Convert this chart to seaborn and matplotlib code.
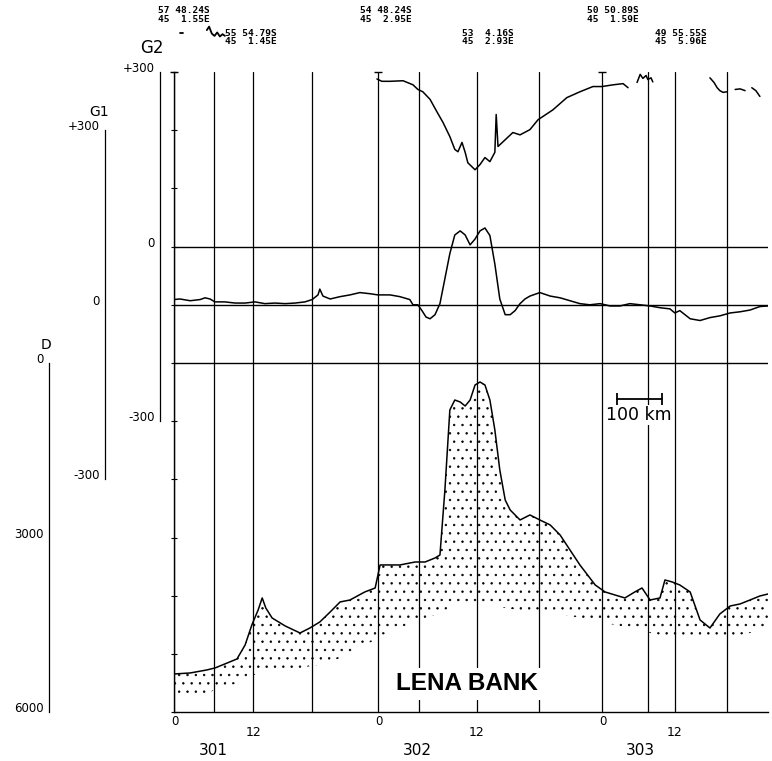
import numpy as np
import pandas as pd
import seaborn as sns
import matplotlib.pyplot as plt
from matplotlib.ticker import FixedLocator, NullFormatter

sns.set_style("white")
plt.rcParams['font.family'] = ['DejaVu Sans']
plt.rcParams['text.color'] = 'black'
plt.rcParams['hatch.linewidth'] = 0.5

# ---- Hardcoded data ----
# distance along track (km) of the 6-hourly time marks, and the hour of each
mark_km = [0, 89, 176, 307, 453, 544, 673, 811, 951, 1053, 1113, 1229]
mark_hour = [0, 6, 12, 18, 0, 6, 12, 18, 0, 6, 12, 18]
day_labels = ["301", "302", "303"]
day_label_km = [87, 540, 1036]

# G2 free-air anomaly (mGal), several broken segments
g2_seg = [1] * 36 + [2] * 7 + [3] * 6 + [4] * 3 + [5] * 3
g2_km = [451, 462, 480, 509, 531, 542, 553, 569, 584, 598, 613, 624, 631, 640,
         647, 653, 669, 680, 691, 702, 713, 716, 720, 731, 753, 769, 791, 809,
         842, 873, 902, 931, 951, 976, 998, 1009,
         1029, 1036, 1042, 1049, 1053, 1060, 1064,
         1191, 1200, 1207, 1213, 1220, 1229,
         1247, 1258, 1269,
         1284, 1293, 1302]
g2_mgal = [288, 284, 284, 285, 278, 270, 266, 253, 232, 213, 189, 167, 163, 179,
           162, 144, 132, 141, 153, 146, 162, 227, 172, 180, 196, 192, 201, 218,
           235, 256, 266, 275, 275, 278, 280, 273,
           282, 296, 289, 294, 287, 290, 283,
           290, 282, 273, 268, 265, 266,
           270, 271, 268,
           273, 268, 258]
# off-scale G2 bits above the frame, day 301
g2_off_seg = [1, 1, 2, 2, 2, 2, 2, 2, 2, 2]
g2_off_km = [13, 20, 73, 78, 84, 90, 96, 102, 108, 113]
g2_off_mgal = [367, 367, 372, 378, 366, 362, 368, 361, 365, 362]

# G1 anomaly (mGal)
g1_km = [0, 13, 36, 58, 69, 80, 91, 113, 136, 158, 180, 202, 224, 247, 269, 291,
         307, 320, 324, 331, 347, 369, 391, 413, 436, 453, 480, 502, 524, 531,
         542, 551, 560, 569, 580, 591, 602, 613, 624, 636, 647, 658, 669, 680,
         691, 702, 713, 724, 736, 747, 758, 769, 780, 791, 813, 836, 858, 880,
         902, 924, 947, 969, 991, 1013, 1036, 1058, 1080, 1102, 1113, 1124,
         1147, 1169, 1191, 1213, 1236, 1258, 1280, 1302, 1320]
g1_mgal = [9, 10, 7, 9, 12, 10, 5, 5, 3, 3, 5, 2, 3, 2, 3, 5,
           9, 17, 27, 15, 10, 14, 17, 21, 19, 17, 17, 14, 9, 0,
           0, -10, -21, -24, -17, 2, 45, 88, 120, 127, 120, 103, 113, 127,
           132, 119, 70, 10, -17, -17, -10, 2, 10, 15, 21, 15, 12, 7,
           2, 0, 2, -2, -2, 2, 0, -2, -5, -7, -14, -10,
           -24, -27, -22, -19, -14, -12, -9, -3, -2]

# Bathymetry D (m) and base of the stippled layer (m)
bathy_km = [0, 36, 73, 91, 113, 140, 158, 173, 187, 196, 204, 218, 247, 280,
            302, 324, 347, 369, 391, 424, 447, 458, 502, 536, 558, 580, 591,
            602, 613, 624, 636, 647, 658, 669, 680, 691, 702, 713, 724, 736,
            747, 769, 791, 813, 836, 858, 880, 902, 936, 958, 980, 1002, 1024,
            1040, 1058, 1080, 1091, 1107, 1124, 1147, 1169, 1191, 1213, 1236,
            1258, 1280, 1302, 1320]
depth_m = [5343, 5326, 5274, 5240, 5171, 5085, 4845, 4501, 4243, 4037, 4209,
           4381, 4518, 4639, 4553, 4450, 4278, 4106, 4072, 3934, 3866, 3470,
           3470, 3419, 3419, 3350, 3299, 2182, 807, 636, 670, 739, 636, 378,
           326, 378, 636, 1151, 1838, 2354, 2525, 2697, 2611, 2697, 2783,
           2955, 3213, 3470, 3814, 3934, 3986, 4037, 3934, 3866, 4072, 4037,
           3728, 3762, 3814, 3934, 4415, 4553, 4312, 4175, 4140, 4072, 4003,
           3969]
base_m = [5755, 5738, 5670, 5620, 5570, 5500, 5420, 5377, 5330, 5300, 5290,
          5274, 5260, 5240, 5210, 5188, 5137, 5068, 4965, 4845, 4759, 4690,
          4553, 4450, 4381, 4330, 4278, 4243, 4209, 4175, 4158, 4140, 4140,
          4140, 4140, 4140, 4158, 4175, 4192, 4209, 4226, 4243, 4261, 4278,
          4295, 4312, 4347, 4381, 4433, 4467, 4501, 4536, 4570, 4604, 4639,
          4673, 4690, 4707, 4725, 4742, 4759, 4759, 4742, 4707, 4673, 4639,
          4604, 4587]

# positions (lat / lon) printed along the top
pos_labels = ["57 48.24S\n45  1.55E", "55 54.79S\n45  1.45E",
              "54 48.24S\n45  2.95E", "53  4.16S\n45  2.93E",
              "50 50.89S\n45  1.59E", "49 55.55S\n45  5.96E"]
pos_km = [-36, 113, 413, 640, 918, 1069]
pos_row = [0, 1, 0, 1, 0, 1]

scale_km = [984, 1084]   # 100 km scale bar

g1_df = pd.DataFrame({"km": g1_km, "mgal": g1_mgal})
g2_df = pd.DataFrame({"km": g2_km, "mgal": g2_mgal, "seg": g2_seg})
g2_off_df = pd.DataFrame({"km": g2_off_km, "mgal": g2_off_mgal, "seg": g2_off_seg})
bathy_df = pd.DataFrame({"km": bathy_km, "depth": depth_m, "base": base_m})

# ---- Layout (pixels of a 772 x 761 figure) ----
W, H = 772, 761
fig = plt.figure(figsize=(W / 100, H / 100), dpi=100)
left_px, right_px, top_px, bot_px = 174, 768, 72, 712.2
ax_bottom = 1 - bot_px / H
ax_height = (bot_px - top_px) / H

ax = fig.add_axes([left_px / W, ax_bottom, (right_px - left_px) / W, ax_height])
ax.patch.set_visible(False)
ax.set_xlim(0, 1320)
ax.set_ylim(6000, -5000)          # depth, downwards
ax_g1 = ax.twinx()
ax_g1.set_ylim(-700, 400)
ax_g2 = ax.twinx()
ax_g2.set_ylim(-800, 300)
for a in (ax_g1, ax_g2):
    a.axis("off")

for s in ["top", "right"]:
    ax.spines[s].set_visible(False)
for s in ["left", "bottom"]:
    ax.spines[s].set_color("black")
    ax.spines[s].set_linewidth(1.0)
ax.set_xticks([])
ax.yaxis.set_major_locator(FixedLocator(np.arange(-5000, 6001, 1000)))
ax.yaxis.set_major_formatter(NullFormatter())
ax.tick_params(axis="y", direction="inout", length=5, width=0.8, color="black")

# zero lines of G2, G1 and D
ax_g2.axhline(0, color="black", lw=1.0)
ax_g1.axhline(0, color="black", lw=1.0)
ax.axhline(0, color="black", lw=1.0)

# time marks
for km in mark_km:
    ax.axvline(km, color="black", lw=0.9, zorder=1)
day_start_km = [k for k, h in zip(mark_km, mark_hour) if h == 0]
ax.scatter(day_start_km, [-5000] * len(day_start_km), marker="_", s=30,
           color="black", clip_on=False, lw=1)

# stippled sediment layer and bathymetry
ax.fill_between(bathy_df["km"], bathy_df["depth"], bathy_df["base"],
                facecolor="none", edgecolor="black", hatch="..", linewidth=0)
sns.lineplot(data=bathy_df, x="km", y="depth", ax=ax, color="black", lw=1.1,
             estimator=None, sort=False)

# gravity traces
sns.lineplot(data=g1_df, x="km", y="mgal", ax=ax_g1, color="black", lw=1.1,
             estimator=None, sort=False)
sns.lineplot(data=g2_df, x="km", y="mgal", units="seg", ax=ax_g2,
             color="black", lw=1.1, estimator=None, sort=False, legend=False)
sns.lineplot(data=g2_off_df, x="km", y="mgal", units="seg", ax=ax_g2,
             color="black", lw=1.3, estimator=None, sort=False, legend=False,
             clip_on=False)
for a in (ax, ax_g1, ax_g2):
    a.set_xlabel("")
    a.set_ylabel("")

# bottom time labels
for km, h in zip(mark_km, mark_hour):
    if h == 0:
        ax.annotate("0", xy=(km, 0), xycoords=("data", "axes fraction"),
                    xytext=(1, -2), textcoords="offset points",
                    ha="center", va="top", fontsize=8.5)
    elif h == 12:
        ax.annotate("12", xy=(km, 0), xycoords=("data", "axes fraction"),
                    xytext=(0, -10), textcoords="offset points",
                    ha="center", va="top", fontsize=9)
for km, lab in zip(day_label_km, day_labels):
    ax.annotate(lab, xy=(km, 0), xycoords=("data", "axes fraction"),
                xytext=(0, -22), textcoords="offset points",
                ha="center", va="top", fontsize=11)

# positions along the top
for km, lab, row in zip(pos_km, pos_labels, pos_row):
    ax.annotate(lab, xy=(km, 1), xycoords=("data", "axes fraction"),
                xytext=(0, 41 - row * 16), textcoords="offset points",
                ha="left", va="center", fontsize=6.8, family="DejaVu Sans Mono",
                fontweight="bold", linespacing=0.9, annotation_clip=False)

# LENA BANK label
ax.text(650, 5515, "LENA BANK", ha="center", va="center", fontsize=17.5,
        family="Liberation Sans", fontweight="bold", zorder=5,
        bbox=dict(facecolor="white", edgecolor="none", pad=3))

# 100 km scale bar
ax.plot(scale_km, [618, 618], color="black", lw=1.3, marker="|", ms=9, mew=1.3,
        zorder=5)
ax.text(np.mean(scale_km), 740, "100 km", ha="center", va="top", fontsize=12.5,
        zorder=5, bbox=dict(facecolor="white", edgecolor="none", pad=0.5))


# ---- scale rulers on the left ----
def ruler(px, lims, bounds, step, labels, title, tdx, tdy, tsize):
    r = fig.add_axes([px / W, ax_bottom, 0.0005, ax_height])
    r.patch.set_visible(False)
    r.set_ylim(*lims)
    for s in ["top", "right", "bottom"]:
        r.spines[s].set_visible(False)
    r.spines["left"].set_bounds(*bounds)
    r.spines["left"].set_linewidth(0.9)
    r.spines["left"].set_color("black")
    r.set_xticks([])
    r.yaxis.set_major_locator(FixedLocator(np.arange(bounds[0], bounds[1] + 1, step)))
    r.yaxis.set_major_formatter(NullFormatter())
    r.tick_params(axis="y", direction="inout", length=5, width=0.8, color="black")
    for val, txt in labels:
        r.annotate(txt, xy=(0, val), xycoords=("axes fraction", "data"),
                   xytext=(-4, 0), textcoords="offset points",
                   ha="right", va="baseline", fontsize=8.5)
    top_val = bounds[1] if lims[1] > lims[0] else bounds[0]
    r.annotate(title, xy=(0, top_val), xycoords=("axes fraction", "data"),
               xytext=(tdx, tdy), textcoords="offset points",
               ha="center", va="baseline", fontsize=tsize)


ruler(49, (6000, -5000), (0, 6000), 1000,
      [(0, "0"), (3000, "3000"), (6000, "6000")], "D", -2, 10, 10)
ruler(105, (-700, 400), (-300, 300), 100,
      [(300, "+300"), (0, "0"), (-300, "-300")], "G1", -4, 10, 10)
ruler(160, (-800, 300), (-300, 300), 100,
      [(300, "+300"), (0, "0"), (-300, "-300")], "G2", -6, 14, 12)

fig.savefig("out.png", dpi=100)
